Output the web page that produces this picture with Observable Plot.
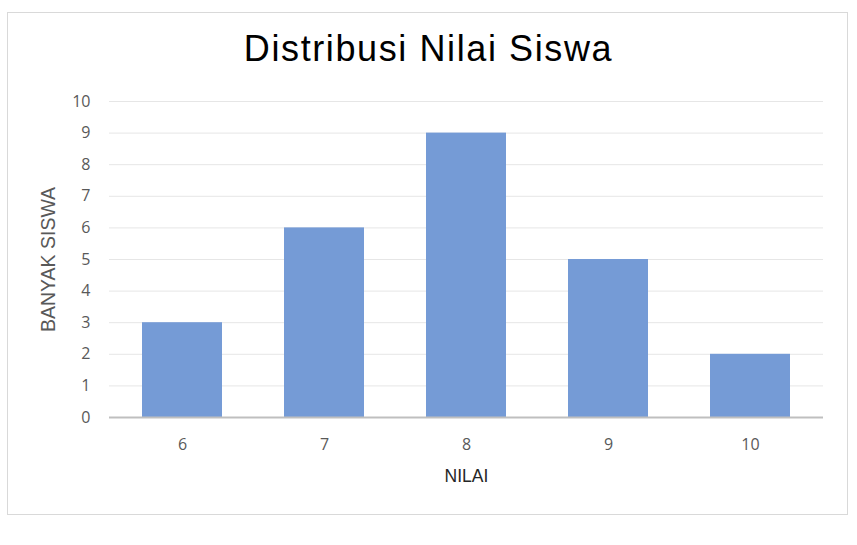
<!DOCTYPE html>
<html><head><meta charset="utf-8">
<script src="https://cdn.jsdelivr.net/npm/d3@7"></script>
<script src="https://cdn.jsdelivr.net/npm/@observablehq/plot@0.6"></script>
<style>
html,body{margin:0;padding:0;background:#fff;}
#wrap{position:relative;width:857px;height:545px;overflow:hidden;}
#frame{position:absolute;left:7px;top:12px;width:841px;height:503px;border:1px solid #d9d9d9;box-sizing:border-box;}
#title{position:absolute;left:0;width:857px;top:28px;text-align:center;font-family:"Liberation Sans",Arial,sans-serif;font-size:36px;color:#000;letter-spacing:1.6px;}
#chart{position:absolute;left:0;top:0;}
</style></head>
<body><div id="wrap"><div id="frame"></div><div id="title">Distribusi Nilai Siswa</div><div id="chart"></div></div>
<script>
const nilai = ["6","7","8","9","10"];
const banyakSiswa = [3,6,9,5,2];
const yTicks = [0,1,2,3,4,5,6,7,8,9,10];
const xLabel = "NILAI";
const yLabel = "BANYAK SISWA";
const data = nilai.map((n,i)=>({nilai:n, banyak:banyakSiswa[i]}));
const plot = Plot.plot({
  width:857, height:545,
  marginLeft:109, marginRight:34, marginTop:101, marginBottom:128,
  style:{fontSize:"16px", fontFamily:"'Open Sans', 'Noto Sans', sans-serif", color:"#595959", background:"transparent"},
  x:{type:"band", domain:nilai, paddingInner:0.44, paddingOuter:0.22, label:null},
  y:{domain:[0,10], label:null},
  marks:[
    Plot.gridY(yTicks.slice(1), {stroke:"#e6e6e6", strokeOpacity:1}),
    Plot.barY(data, {x:"nilai", y:"banyak", fill:"#759bd6"}),
    Plot.ruleY([0], {stroke:"#bfbfbf", strokeWidth:2}),
    Plot.axisY(yTicks, {tickSize:0, tickPadding:19, fontSize:16, label:null, fill:"#595959"}),
    Plot.axisX({tickSize:0, tickPadding:21, fontSize:16, label:null, fill:"#595959"}),
    Plot.text([yLabel], {frameAnchor:"left", textAnchor:"middle", lineAnchor:"middle", dx:-61, rotate:-90, fontSize:19.5, fill:"#595959", fontFamily:"Liberation Sans", letterSpacing:"1.1px"}),
    Plot.text([xLabel], {frameAnchor:"bottom", lineAnchor:"middle", dy:59, fontSize:17.5, fill:"#262626", fontFamily:"Liberation Sans"})
  ]
});
document.getElementById("chart").appendChild(plot);
</script></body></html>
